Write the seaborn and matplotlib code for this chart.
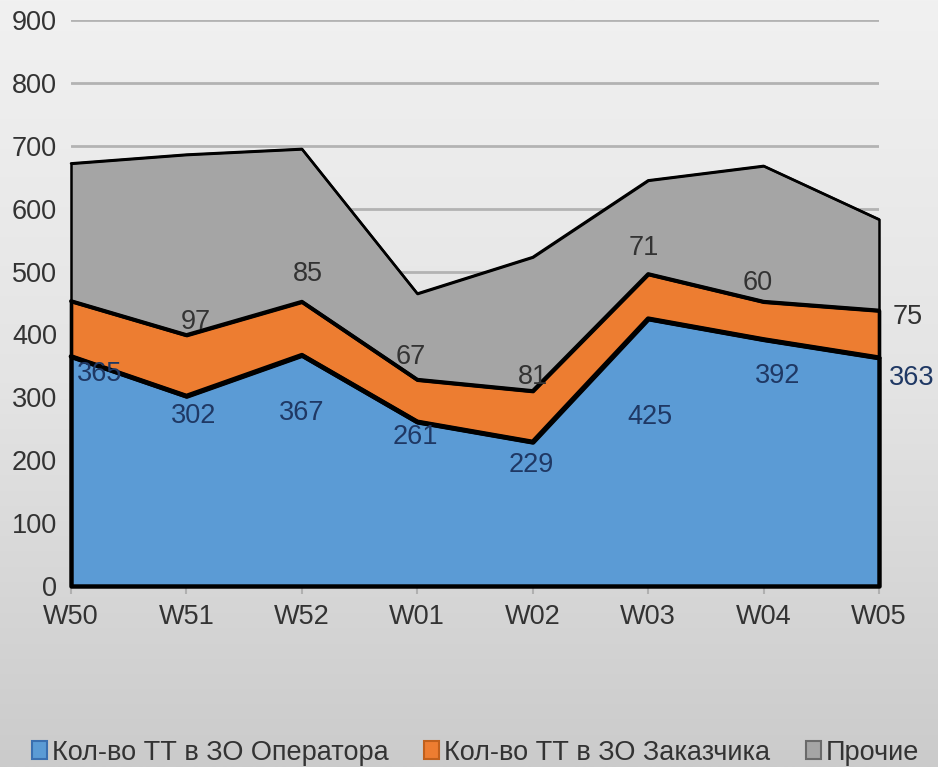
import numpy as np
import pandas as pd
import seaborn as sns
import matplotlib.pyplot as plt
import matplotlib.patches as mpatches
from matplotlib.colors import LinearSegmentedColormap

# weekly counts (stacked)
weeks = ["W50", "W51", "W52", "W01", "W02", "W03", "W04", "W05"]
operator = [365, 302, 367, 261, 229, 425, 392, 363]
customer = [88, 97, 85, 67, 81, 71, 60, 75]
other = [219, 287, 243, 137, 213, 149, 216, 145]

series_names = ["Кол-во ТТ в ЗО Оператора", "Кол-во ТТ в ЗО Заказчика", "Прочие"]
fill_colors = ["#5b9bd5", "#ed7d31", "#a5a5a5"]
edge_colors = ["#3a6fb0", "#c0601c", "#6a6a6a"]

# label offsets in pixels (dx, dy) relative to top of each layer
op_offsets = [(29, -18), (7, -20), (0, -58), (-2, -15), (-1, -23), (2, -98), (14, -37), (33, -20)]
cu_offsets = [None, (9, 13), (6, 28), (-7, 23), (0, 14), (-4, 26), (-6, 19), (29, -6)]

sns.set_theme(style="white")
plt.rcParams['font.family'] = ['Liberation Sans', 'DejaVu Sans']
FS = 19.5

x = np.arange(len(weeks))
top1 = np.array(operator)
top2 = top1 + np.array(customer)
top3 = top2 + np.array(other)

df = pd.DataFrame({
    "pos": np.concatenate([x, x, x]),
    "top": np.concatenate([top3, top2, top1]),
    "layer": ["other"] * len(x) + ["customer"] * len(x) + ["operator"] * len(x),
})

fig = plt.figure(figsize=(9.38, 7.67), dpi=100)

# gradient background
bg = fig.add_axes([0, 0, 1, 1], zorder=-10)
grad = np.linspace(0, 1, 256).reshape(-1, 1)
cmap = LinearSegmentedColormap.from_list("bg", ["#f1f1f1", "#e4e4e4", "#cbcbcb"])
bg.imshow(grad, aspect="auto", cmap=cmap, extent=[0, 1, 0, 1], origin="upper")
bg.axis("off")

ax = fig.add_axes([71 / 938, 1 - 586 / 767, (879 - 71) / 938, (586 - 20) / 767])
ax.set_facecolor("none")

ax.fill_between(x, top2, top3, color=fill_colors[2], edgecolor="black", lw=1.8, zorder=2, clip_on=False)
ax.fill_between(x, top1, top2, color=fill_colors[1], edgecolor="black", lw=2.6, zorder=3, clip_on=False)
ax.fill_between(x, 0, top1, color=fill_colors[0], edgecolor="black", lw=3.2, zorder=4, clip_on=False)

sns.lineplot(data=df, x="pos", y="top", hue="layer", size="layer",
             palette={"other": "black", "customer": "black", "operator": "black"},
             sizes={"other": 1.8, "customer": 2.8, "operator": 3.4},
             legend=False, sort=False, ax=ax, zorder=5, clip_on=False)

ax.set_xlim(0, len(weeks) - 1)
ax.set_ylim(0, 900)
ax.set_yticks(range(0, 901, 100))
ax.set_xticks(x)
ax.set_xticklabels(weeks)
ax.set_xlabel("")
ax.set_ylabel("")
ax.yaxis.grid(True, color="#b3b3b3", lw=2)
ax.xaxis.grid(False)
ax.set_axisbelow(True)
for s in ax.spines.values():
    s.set_visible(False)
ax.tick_params(axis="x", length=6, width=1.5, color="#b0b0b0", pad=7, labelsize=FS, labelcolor="#333333", bottom=True)
ax.tick_params(axis="y", length=0, pad=10, labelsize=FS, labelcolor="#333333")

# data labels
for i, v in enumerate(operator):
    dx, dy = op_offsets[i]
    ax.annotate(str(v), xy=(x[i], top1[i]), xytext=(dx * 0.72, dy * 0.72), textcoords="offset points",
                ha="center", va="center", fontsize=FS, color="#1f3864", zorder=6, annotation_clip=False)
for i, v in enumerate(customer):
    if cu_offsets[i] is None:
        continue
    dx, dy = cu_offsets[i]
    ax.annotate(str(v), xy=(x[i], top2[i]), xytext=(dx * 0.72, dy * 0.72), textcoords="offset points",
                ha="center", va="center", fontsize=FS, color="#333333", zorder=6, annotation_clip=False)

handles = [mpatches.Patch(facecolor=fc, edgecolor=ec, lw=1.5) for fc, ec in zip(fill_colors, edge_colors)]
fig.legend(handles, series_names, loc="lower center", bbox_to_anchor=(0.507, -0.03), ncol=3, frameon=False,
           handlelength=0.55, handleheight=0.6, handletextpad=0.2, columnspacing=1.3, fontsize=FS,
           labelcolor="#333333")

fig.savefig("out.png", dpi=100)
